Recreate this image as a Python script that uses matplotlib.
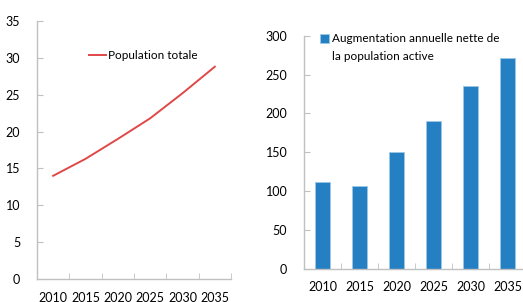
import numpy as np
import matplotlib.pyplot as plt

plt.rcParams['font.family'] = ['Lato', 'DejaVu Sans']

# data
years = ['2010', '2015', '2020', '2025', '2030', '2035']
population_totale = [14.0, 16.3, 19.0, 21.8, 25.2, 28.8]
augmentation_active = [111, 107, 150, 190, 235, 271]

line_col = '#E04848'
bar_col = '#2580C3'
axis_col = '#C0C0C0'

fig = plt.figure(figsize=(5.23, 3.02), dpi=100)
ax1 = fig.add_axes([37/523, 23/302, 194/523, 258/302])
ax2 = fig.add_axes([304/523, 33.3/302, 222/523, 233/302])

def style_axis(ax, ymax, ystep):
    x = np.arange(len(years))
    ax.set_xlim(-0.5, len(years) - 0.5)
    ax.set_ylim(0, ymax)
    ax.set_yticks(np.arange(0, ymax + 1, ystep))
    ax.set_xticks(x)
    ax.set_xticklabels(years)
    ax.set_xticks(np.arange(-0.5, len(years)), minor=True)
    ax.tick_params(axis='x', which='major', length=0, pad=9, labelsize=9)
    ax.tick_params(axis='x', which='minor', direction='in', length=4, color=axis_col)
    ax.tick_params(axis='y', direction='in', length=4, color=axis_col, pad=12, labelsize=9)
    for s in ['top', 'right']:
        ax.spines[s].set_visible(False)
    for s in ['left', 'bottom']:
        ax.spines[s].set_color(axis_col)
        ax.spines[s].set_linewidth(1)
    ax.patch.set_alpha(0)
    return x

x = style_axis(ax1, 35, 5)
ax1.plot(x, population_totale, color=line_col, lw=1.4, label='Population totale')
ax1.legend(loc='upper left', bbox_to_anchor=(0.245, 0.905), frameon=False, fontsize=8.5,
           handlelength=1.4, handletextpad=0.2, borderaxespad=0)

x = style_axis(ax2, 300, 50)
ax2.bar(x, augmentation_active, width=0.42, color=bar_col, edgecolor='#9CC8E8', linewidth=0.6,
        label='Augmentation annuelle nette de')
ax2.legend(loc='upper left', bbox_to_anchor=(0.05, 1.03), frameon=False, fontsize=8.5,
           handlelength=0.75, handleheight=0.75, handletextpad=0.3, borderaxespad=0)
# second line of the legend label, under the first
fig.text(332/523, 1 - 57/302, 'la population active', fontsize=8.5, va='center', ha='left')

fig.savefig('out.png', dpi=100)
